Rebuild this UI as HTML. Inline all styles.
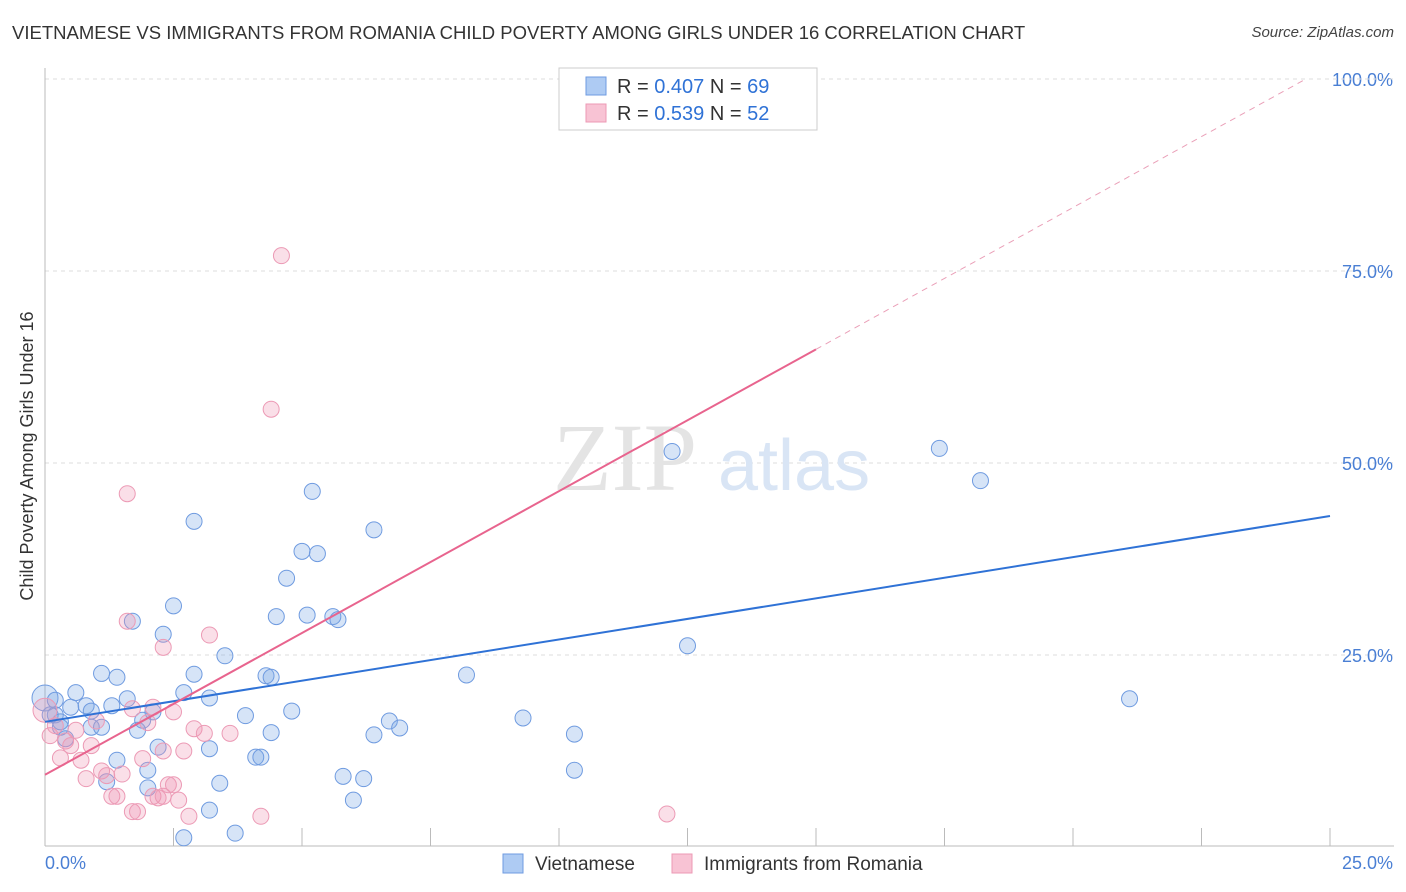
<!DOCTYPE html>
<html><head><meta charset="utf-8">
<style>
body{margin:0;background:#fff;font-family:"Liberation Sans",sans-serif;}
#wrap{position:relative;width:1406px;height:892px;overflow:hidden;}
.title{position:absolute;left:12px;top:22px;font-size:18.5px;color:#333;}
.source{position:absolute;right:12px;top:24px;font-size:15px;color:#444;font-style:italic;}
</style></head>
<body>
<div id="wrap">
<div class="title">VIETNAMESE VS IMMIGRANTS FROM ROMANIA CHILD POVERTY AMONG GIRLS UNDER 16 CORRELATION CHART</div>
<div class="source">Source: ZipAtlas.com</div>
<svg id="chart" width="1406" height="892" style="position:absolute;left:0;top:0"></svg>
</div>
<script>
const xTicks=[0,2.5,5,7.5,10,12.5,15,17.5,20,22.5,25];
const yTicks=[25,50,75,100];
const yTickLabels=["25.0%","50.0%","75.0%","100.0%"];
const blueX=[0,0.2,0.3,0.5,0.6,0.8,0.9,1.1,1.1,1.3,1.4,1.4,1.2,1.6,1.7,1.8,1.9,2.0,2.1,2.0,2.2,2.3,2.5,2.7,2.9,2.9,3.2,3.2,3.2,3.4,3.5,3.7,3.9,4.1,4.2,4.3,4.4,4.4,4.5,4.7,4.8,5.0,5.2,5.3,5.1,5.6,5.7,5.8,6.0,6.2,6.4,6.4,6.7,6.9,8.2,9.3,10.3,10.3,12.2,12.5,17.4,18.2,21.1,2.7,0.3,0.1,0.2,0.4,0.9];
const blueY=[19.4,17.2,15.6,18.2,20.1,18.4,15.6,22.6,15.6,18.4,22.1,11.3,8.5,19.3,29.4,15.2,16.5,10.0,17.6,7.7,13.0,27.7,31.4,20.1,42.4,22.5,12.8,19.4,4.8,8.3,24.9,1.8,17.1,11.7,11.7,22.3,22.1,14.9,30.0,35.0,17.7,38.5,46.3,38.2,30.2,30.0,29.6,9.2,6.1,8.9,14.6,41.3,16.4,15.5,22.4,16.8,14.7,10.0,51.5,26.2,51.9,47.7,19.3,1.2,16.3,17.2,19.1,14.1,17.7];
const pinkX=[0,0.1,0.2,0.3,0.4,0.5,0.6,0.7,0.8,0.9,1.0,1.1,1.2,1.3,1.4,1.5,1.6,1.6,1.7,1.8,1.7,1.9,2.0,2.1,2.1,2.2,2.3,2.3,2.4,2.5,2.6,2.5,2.7,2.8,2.9,3.1,3.2,3.6,4.2,4.4,4.6,2.3,12.1,14.5];
const pinkY=[17.8,14.5,15.8,11.6,13.8,13.2,15.2,11.3,8.9,13.2,16.4,9.9,9.3,6.6,6.6,9.5,29.4,46.0,4.6,4.6,18.0,11.5,16.2,18.2,6.6,6.4,6.6,12.5,8.1,8.1,6.1,17.6,12.5,4.0,15.4,14.8,27.6,14.8,4.0,57.0,77.0,26.0,4.3,99.5];
const bLine=[16.3,43.1];
const pLine=[9.4,64.8];
const NS="http://www.w3.org/2000/svg";
const svg=document.getElementById('chart');
const X=v=>45+v*51.4;
const Y=v=>847-v*7.68;
function mk(t,a,parent){const e=document.createElementNS(NS,t);for(const k in a)e.setAttribute(k,a[k]);(parent||svg).appendChild(e);return e;}
for(let i=0;i<yTicks.length;i++){
 const g=mk('line',{x1:45,x2:1394,y1:Y(yTicks[i]),y2:Y(yTicks[i]),stroke:'#ddd','stroke-dasharray':'4,4'});
 
 
 const t=mk('text',{x:1393,y:Y(yTicks[i])+7,'text-anchor':'end','font-size':18,fill:'#4a7fd4'});
 t.textContent=yTickLabels[i];
 
 
}
const topGrid=mk('line',{x1:45,x2:1394,y1:79,y2:79,stroke:'#ddd','stroke-dasharray':'4,4'});


const xa=mk('line',{x1:45,x2:1394,y1:846,y2:846,stroke:'#bbb'});


const ya=mk('line',{x1:45,x2:45,y1:68,y2:846,stroke:'#bbb'});


xTicks.forEach(v=>{const l=mk('line',{x1:X(v),x2:X(v),y1:828,y2:846,stroke:'#bbb'});
 
 });
const x0=mk('text',{x:45,y:869,'font-size':18,fill:'#4a7fd4'});x0.textContent='0.0%';


const x1=mk('text',{x:1393,y:869,'text-anchor':'end','font-size':18,fill:'#4a7fd4'});x1.textContent='25.0%';


const yt=mk('text',{x:0,y:0,transform:'translate(33,456) rotate(-90)','text-anchor':'middle','font-size':18,fill:'#333'});yt.textContent='Child Poverty Among Girls Under 16';


const wm=mk('text',{x:553,y:490,'font-size':96,fill:'#e4e4e4','font-family':'Liberation Serif'});wm.textContent='ZIP';


const wm2=mk('text',{x:718,y:490,'font-size':72,fill:'#d9e5f5'});wm2.textContent='atlas';


for(let i=0;i<blueX.length;i++){const c=mk('circle',{cx:X(blueX[i]),cy:Y(blueY[i]),r:i==0?13:8,fill:'rgba(120,165,230,0.3)',stroke:'#6f9be0','stroke-width':1});
 
 }
for(let i=0;i<pinkX.length;i++){const c=mk('circle',{cx:X(pinkX[i]),cy:Y(pinkY[i]),r:i==0?12:8,fill:'rgba(240,150,180,0.3)',stroke:'#ec9ab5','stroke-width':1});
 
 }
const bl=mk('line',{x1:X(0),y1:Y(bLine[0]),x2:X(25),y2:Y(bLine[1]),stroke:'#2f72d6','stroke-width':2});


const slope=(pLine[1]-pLine[0])/15;
const pl=mk('line',{x1:X(0),y1:Y(pLine[0]),x2:X(15),y2:Y(pLine[1]),stroke:'#e8648e','stroke-width':2});


const xe=(100-pLine[0])/slope;
const pd=mk('line',{x1:X(15),y1:Y(pLine[1]),x2:X(xe),y2:Y(100),stroke:'#eaa0b8','stroke-width':1,'stroke-dasharray':'6,5'});


const lb=mk('rect',{x:559,y:68,width:258,height:62,fill:'#fff',stroke:'#ccc'});


[[0,'#aecbf3','#6f9be0','0.407','69'],[1,'#f8c3d4','#ec9ab5','0.539','52']].forEach(r=>{
 const y=86+r[0]*27;
 const s=mk('rect',{x:586,y:y-9,width:20,height:18,fill:r[1],stroke:r[2]});
 
 
 const t=mk('text',{x:617,y:y+7,'font-size':20,fill:'#333'});
 t.setAttribute('xml:space','preserve');
 t.innerHTML='R = <tspan fill="#2f72d6">'+r[3]+'</tspan>   N = <tspan fill="#2f72d6">'+r[4]+'</tspan>';
 
 
});
[[503,'#aecbf3','#6f9be0','Vietnamese'],[672,'#f8c3d4','#ec9ab5','Immigrants from Romania']].forEach(r=>{
 const s=mk('rect',{x:r[0],y:854,width:20,height:19,fill:r[1],stroke:r[2]});
 
 
 const t=mk('text',{x:r[0]+32,y:870,'font-size':19,fill:'#333'});t.textContent=r[3];
 
 
});
</script>
</body></html>
